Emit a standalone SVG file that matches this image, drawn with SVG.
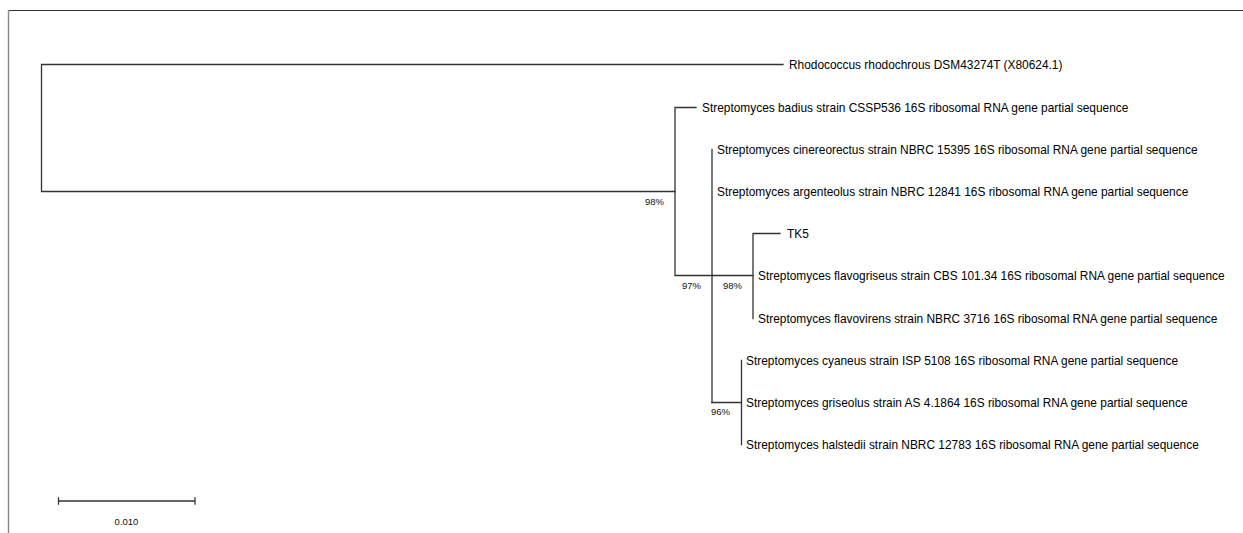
<svg xmlns="http://www.w3.org/2000/svg" width="1243" height="533" viewBox="0 0 1243 533">
<style>
.br{stroke:#333;stroke-width:1.3;fill:none;stroke-linecap:square}
.lab{font-family:"Liberation Sans",Arial,sans-serif;font-size:11.9px;fill:#000}
.bs{font-family:"Liberation Sans",Arial,sans-serif;font-size:9.5px;fill:#111}
</style>
<rect x="0" y="0" width="1243" height="533" fill="#fff"/>
<g id="frame">
<line x1="8" y1="10.5" x2="1243" y2="10.5" stroke="#333" stroke-width="1.2"/>
<line x1="8.5" y1="10" x2="8.5" y2="533" stroke="#888" stroke-width="1.4"/>
</g>
<g id="connectors">
<path class="br" d="M41.5,64.5V191.5M41.5,64.5H783M41.5,191.5H675"/>
<path class="br" d="M675,107.5V275.5M675,107.5H696M675,275.5H712"/>
<path class="br" d="M712,149.5V402.5M712,275.5H753"/>
<path class="br" d="M753,233.5V318.5M753,233.5H780"/>
<path class="br" d="M712,402.5H741.5M741.5,360.5V444.5"/>
</g>
<g id="leaf-rhodococcus"><text class="lab" x="789" y="68.8">Rhodococcus rhodochrous DSM43274T (X80624.1)</text></g>
<g id="leaf-badius"><text class="lab" x="702" y="111.8">Streptomyces badius strain CSSP536 16S ribosomal RNA gene partial sequence</text></g>
<g id="leaf-cinereorectus"><text class="lab" x="717" y="153.8">Streptomyces cinereorectus strain NBRC 15395 16S ribosomal RNA gene partial sequence</text></g>
<g id="leaf-argenteolus"><text class="lab" x="717" y="195.8">Streptomyces argenteolus strain NBRC 12841 16S ribosomal RNA gene partial sequence</text></g>
<g id="leaf-tk5"><text class="lab" x="787" y="237.8">TK5</text></g>
<g id="leaf-flavogriseus"><text class="lab" x="758" y="279.8">Streptomyces flavogriseus strain CBS 101.34 16S ribosomal RNA gene partial sequence</text></g>
<g id="leaf-flavovirens"><text class="lab" x="758" y="322.8">Streptomyces flavovirens strain NBRC 3716 16S ribosomal RNA gene partial sequence</text></g>
<g id="leaf-cyaneus"><text class="lab" x="746" y="364.8">Streptomyces cyaneus strain ISP 5108 16S ribosomal RNA gene partial sequence</text></g>
<g id="leaf-griseolus"><text class="lab" x="746" y="406.8">Streptomyces griseolus strain AS 4.1864 16S ribosomal RNA gene partial sequence</text></g>
<g id="leaf-halstedii"><text class="lab" x="746" y="448.8">Streptomyces halstedii strain NBRC 12783 16S ribosomal RNA gene partial sequence</text></g>
<g id="bootstrap">
<text class="bs" x="645" y="205">98%</text>
<text class="bs" x="682" y="289">97%</text>
<text class="bs" x="723" y="289">98%</text>
<text class="bs" x="711" y="415">96%</text>
</g>
<g id="scale">
<path class="br" d="M58.5,501H195M58.5,498V504M195,498V504"/>
<text class="bs" x="126.5" y="524.5" text-anchor="middle" font-size="9">0.010</text>
</g>
</svg>
